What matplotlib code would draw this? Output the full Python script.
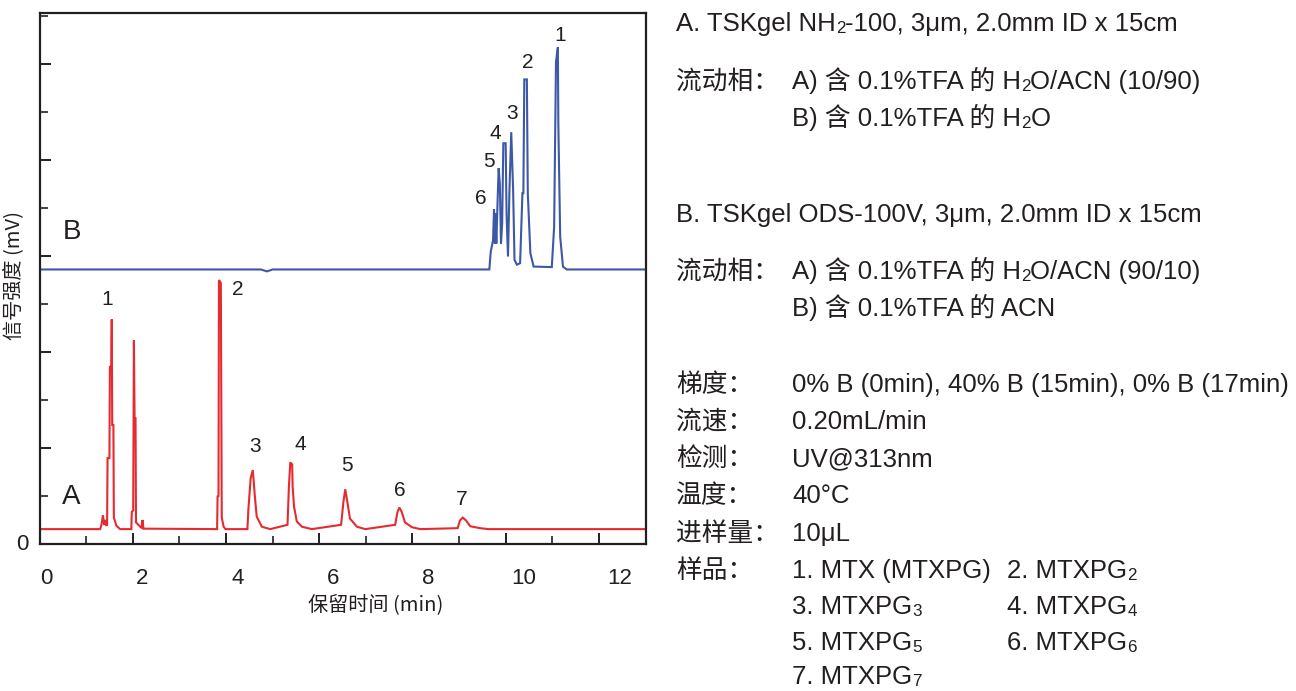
import matplotlib
matplotlib.use("Agg")
import matplotlib.pyplot as plt
from matplotlib.ticker import MultipleLocator, NullFormatter

plt.rcParams['font.family'] = ['Liberation Sans', 'Noto Sans CJK SC', 'DejaVu Sans']

# ---------------- data ----------------
# Chromatogram A (red): retention time (min) / signal (relative units)
red_t = [0.0, 1.30, 1.33, 1.36, 1.39, 1.41, 1.43, 1.45, 1.46, 1.50, 1.51, 1.54, 1.55, 1.56,
         1.585, 1.595, 1.65, 1.73, 1.97, 1.98, 2.01, 2.025, 2.04, 2.06, 2.07, 2.16, 2.19,
         2.21, 2.23, 3.81, 3.82, 3.84, 3.85, 3.89, 3.91, 3.95, 3.99,
         4.46, 4.48, 4.53, 4.575, 4.59, 4.62, 4.66, 4.77, 4.95,
         5.32, 5.35, 5.38, 5.42, 5.43, 5.46, 5.52, 5.63, 5.84,
         6.47, 6.52, 6.56, 6.61, 6.66, 6.81, 6.99,
         7.63, 7.68, 7.72, 7.77, 7.84, 7.99, 8.17,
         8.97, 9.02, 9.08, 9.15, 9.24, 9.45, 9.63, 13.0]
red_y = [0.31, 0.31, 0.40, 0.60, 0.40, 0.50, 0.38, 0.40, 1.79, 1.79, 3.69, 3.69, 4.68, 2.48,
         2.48, 0.55, 0.38, 0.31, 0.31, 0.67, 0.70, 4.24, 2.62, 2.62, 0.45, 0.36, 0.34,
         0.50, 0.32, 0.31, 0.99, 1.00, 5.50, 5.44, 0.55, 0.36, 0.31,
         0.31, 0.71, 1.37, 1.54, 1.37, 0.99, 0.57, 0.36, 0.31,
         0.40, 1.19, 1.70, 1.66, 1.20, 0.78, 0.47, 0.36, 0.31,
         0.40, 0.88, 1.14, 0.84, 0.53, 0.36, 0.31,
         0.40, 0.67, 0.76, 0.67, 0.45, 0.35, 0.31,
         0.33, 0.49, 0.55, 0.49, 0.37, 0.33, 0.31, 0.31]

# Chromatogram B (blue)
blue_t = [0.0, 4.75, 4.88, 5.00, 9.65, 9.68, 9.73, 9.75, 9.77, 9.78, 9.80, 9.83, 9.85, 9.875,
          9.90, 9.925, 9.95, 10.00, 10.02, 10.05, 10.08, 10.12, 10.16, 10.19, 10.24, 10.31,
          10.36, 10.38, 10.40, 10.455, 10.475, 10.53, 10.60, 10.99, 11.04, 11.08, 11.12,
          11.13, 11.17, 11.23, 11.31, 13.0]
blue_y = [5.72, 5.72, 5.68, 5.72, 5.72, 6.09, 6.33, 6.97, 6.26, 6.89, 6.26, 7.24, 7.83, 7.51,
          6.26, 6.68, 8.35, 8.35, 6.86, 5.99, 7.31, 8.58, 7.38, 5.92, 5.82, 5.85,
          7.31, 7.31, 9.68, 9.68, 7.31, 6.06, 5.78, 5.77, 6.61, 10.05, 10.35,
          8.76, 6.40, 5.78, 5.72, 5.72]

# peak labels
red_labels = ['1', '2', '3', '4', '5', '6', '7']
blue_labels = ['1', '2', '3', '4', '5', '6']
x_tick_labels = ['0', '2', '4', '6', '8', '10', '12']

# ---------------- layout ----------------
W, H = 1296, 691
fig = plt.figure(figsize=(W / 100, H / 100), dpi=100)
ax = fig.add_axes([39.5 / W, 1 - 544 / H, (645.5 - 39.5) / W, (544 - 12.7) / H])

TXT = '#231f20'
RED = '#e52a30'
BLUE = '#3c58a6'

ax.plot(red_t, red_y, color=RED, lw=1.5, solid_joinstyle='miter')
ax.plot(blue_t, blue_y, color=BLUE, lw=1.5, solid_joinstyle='miter')

ax.set_xlim(0, 13.0)
ax.set_ylim(0, 11.07)

for s in ax.spines.values():
    s.set_linewidth(1.6)
    s.set_color(TXT)

ax.xaxis.set_major_locator(MultipleLocator(2))
ax.xaxis.set_minor_locator(MultipleLocator(1))
ax.xaxis.set_major_formatter(NullFormatter())
ax.yaxis.set_major_locator(MultipleLocator(2))
ax.yaxis.set_minor_locator(MultipleLocator(1))
ax.yaxis.set_major_formatter(NullFormatter())
ax.tick_params(which='major', direction='in', length=8, width=1.4, color=TXT)
ax.tick_params(which='minor', direction='in', length=6, width=1.2, color=TXT)

# tick labels (the reference's labels sit slightly to the right of the ticks)
sec = ax.secondary_xaxis('bottom', functions=(lambda t: (t - 0.144) / 1.0247,
                                              lambda m: 0.144 + 1.0247 * m))
sec.set_xticks([int(v) for v in x_tick_labels])
sec.set_xticklabels(x_tick_labels)
sec.tick_params(length=0, labelsize=16, labelcolor=TXT, pad=17)
sec.spines['bottom'].set_visible(False)

ax.text((22 - 39.5) / 606, 0.0, '0', transform=ax.get_yaxis_transform(), ha='center',
        va='center', fontsize=16, color=TXT)

ax.set_xlabel('保留时间 (min)', fontsize=14.5, color=TXT,
              family=['Noto Sans CJK SC', 'DejaVu Sans'])
ax.xaxis.set_label_coords(0.555, -0.094)
ax.set_ylabel('信号强度 (mV)', fontsize=14.5, color=TXT,
              family=['Noto Sans CJK SC', 'DejaVu Sans'])
ax.yaxis.set_label_coords(-0.026, 0.506)

# peak labels
red_lab_pos = [(1.45, 5.10), (4.26, 5.31), (4.62, 2.04), (5.59, 2.08), (6.60, 1.63), (7.74, 1.125), (9.05, 0.92)]
blue_lab_pos = [(11.17, 10.6), (10.48, 10.04), (10.14, 8.98), (9.77, 8.56), (9.65, 7.98), (9.47, 7.19)]
for lab, (x, y) in zip(red_labels, red_lab_pos):
    ax.text(x, y, lab, ha='center', va='center', fontsize=15, color=TXT)
for lab, (x, y) in zip(blue_labels, blue_lab_pos):
    ax.text(x, y, lab, ha='center', va='center', fontsize=15, color=TXT)
ax.text(0.68, 0.98, 'A', ha='center', va='center', fontsize=20, color=TXT)
ax.text(0.70, 6.5, 'B', ha='center', va='center', fontsize=20, color=TXT)

# ---------------- right-hand conditions text ----------------
FS = 18.5
renderer = fig.canvas.get_renderer()


def rich(x, yc, parts):
    """Draw a line made of (text, is_subscript) pieces; x, yc in pixels (yc = cap centre)."""
    xb = x
    base = yc + 9.0
    for s, sub in parts:
        fs = FS * 0.66 if sub else FS
        yy = base + (2.0 if sub else 0.0)
        tx = fig.text(xb / W, 1 - yy / H, s, fontsize=fs, color=TXT, va='baseline', ha='left')
        bb = tx.get_window_extent(renderer)
        xb += bb.width


def t(x, yc, s):
    rich(x, yc, [(s, False)])


rich(676, 22, [('A. TSKgel NH', False), ('2', True), ('-100, 3μm, 2.0mm ID x 15cm', False)])
t(676, 80, '流动相：')
rich(792, 80, [('A) 含 0.1%TFA 的 H', False), ('2', True), ('O/ACN (10/90)', False)])
rich(792, 117, [('B) 含 0.1%TFA 的 H', False), ('2', True), ('O', False)])
t(676, 213, 'B. TSKgel ODS-100V, 3μm, 2.0mm ID x 15cm')
t(676, 270, '流动相：')
rich(792, 270, [('A) 含 0.1%TFA 的 H', False), ('2', True), ('O/ACN (90/10)', False)])
t(792, 307, 'B) 含 0.1%TFA 的 ACN')

rows = [('梯度：', '0% B (0min), 40% B (15min), 0% B (17min)'),
        ('流速：', '0.20mL/min'),
        ('检测：', 'UV@313nm'),
        ('温度：', '40°C'),
        ('进样量：', '10μL'),
        ('样品：', '1. MTX (MTXPG)')]
ys = [383, 420, 457, 494, 532, 569]
for (a, b), y in zip(rows, ys):
    t(676, y, a)
    t(792, y, b)
rich(1007, 569, [('2. MTXPG', False), ('2', True)])
rich(792, 605, [('3. MTXPG', False), ('3', True)])
rich(1007, 605, [('4. MTXPG', False), ('4', True)])
rich(792, 641, [('5. MTXPG', False), ('5', True)])
rich(1007, 641, [('6. MTXPG', False), ('6', True)])
rich(792, 675, [('7. MTXPG', False), ('7', True)])

fig.savefig('out.png', dpi=100)
